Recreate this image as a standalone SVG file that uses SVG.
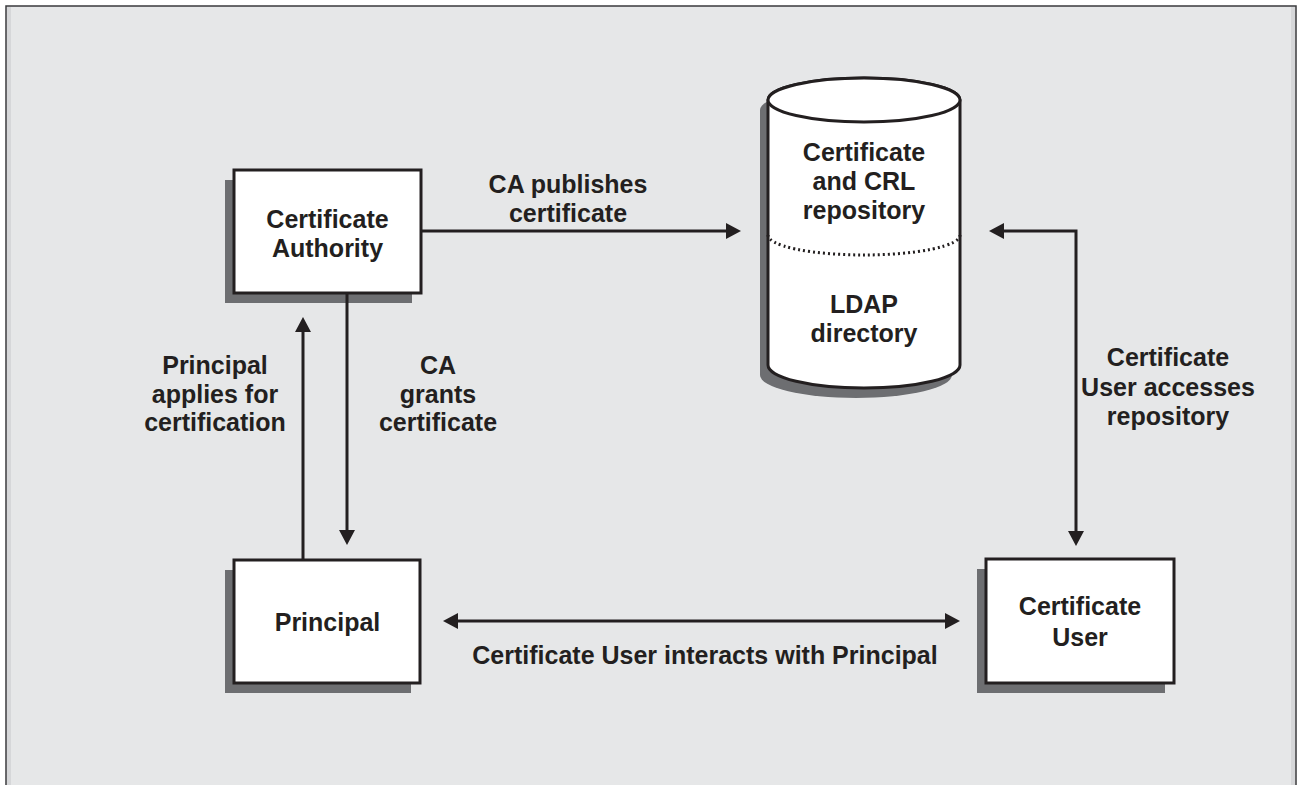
<svg xmlns="http://www.w3.org/2000/svg" width="1301" height="785" viewBox="0 0 1301 785">
  <style>
    .bg { fill: #e6e7e8; }
    .box { fill: #ffffff; stroke: #231f20; stroke-width: 3; }
    .shadow { fill: #6d6e71; }
    .lbl { font-family: "Liberation Sans", Arial, Helvetica, sans-serif; font-weight: bold; font-size: 25px; fill: #231f20; text-anchor: middle; }
    .conn { fill: none; stroke: #231f20; stroke-width: 3; }
  </style>
  <defs>
    <marker id="arrow" markerUnits="userSpaceOnUse" markerWidth="16" markerHeight="16" refX="1" refY="8" orient="auto-start-reverse" viewBox="0 0 16 16">
      <path d="M0,0 L15,8 L0,16 Z" fill="#231f20"/>
    </marker>
  </defs>

  <!-- page frame -->
  <rect x="0" y="0" width="1301" height="785" fill="#ffffff"/>
  <rect class="bg" x="6" y="6" width="1290" height="790" stroke="#3a3a3c" stroke-width="1.5"/>
  <rect x="7" y="7" width="4" height="790" fill="#d6d7d9"/>
  <rect x="1291" y="7" width="4" height="790" fill="#d6d7d9"/>

  <!-- Certificate Authority -->
  <g id="node-ca">
    <rect class="shadow" x="225" y="180" width="187" height="123"/>
    <rect class="box" x="234" y="170" width="187" height="123"/>
    <text class="lbl" x="327.5" y="228">Certificate</text>
    <text class="lbl" x="327.5" y="257">Authority</text>
  </g>

  <!-- Repository cylinder -->
  <g id="node-repository">
    <path class="shadow" transform="translate(-8,10)" d="M768,100 V365 A96,23 0 0 0 960,365 V100 A96,22 0 0 0 768,100 Z"/>
    <path class="box" d="M768,100 V365 A96,23 0 0 0 960,365 V100 A96,22 0 0 0 768,100 Z"/>
    <ellipse class="box" cx="864" cy="100" rx="96" ry="22"/>
    <path d="M768,235 A96,20 0 0 0 960,235" fill="none" stroke="#231f20" stroke-width="3" stroke-dasharray="2,3"/>
    <text class="lbl" x="864" y="161">Certificate</text>
    <text class="lbl" x="864" y="190">and CRL</text>
    <text class="lbl" x="864" y="219">repository</text>
    <text class="lbl" x="864" y="313">LDAP</text>
    <text class="lbl" x="864" y="342">directory</text>
  </g>

  <!-- Principal -->
  <g id="node-principal">
    <rect class="shadow" x="225" y="570" width="186" height="123"/>
    <rect class="box" x="234" y="560" width="186" height="123"/>
    <text class="lbl" x="327.5" y="631">Principal</text>
  </g>

  <!-- Certificate User -->
  <g id="node-user">
    <rect class="shadow" x="977" y="569" width="188" height="124"/>
    <rect class="box" x="986" y="559" width="188" height="124"/>
    <text class="lbl" x="1080" y="615">Certificate</text>
    <text class="lbl" x="1080" y="646">User</text>
  </g>

  <!-- connectors -->
  <g id="connectors">
    <path class="conn" d="M421,231 H727" marker-end="url(#arrow)"/>
    <path class="conn" d="M1003,231 H1076 V532" marker-start="url(#arrow)" marker-end="url(#arrow)"/>
    <path class="conn" d="M347,293 V531" marker-end="url(#arrow)"/>
    <path class="conn" d="M303,560 V331" marker-end="url(#arrow)"/>
    <path class="conn" d="M457,621 H946" marker-start="url(#arrow)" marker-end="url(#arrow)"/>
  </g>

  <!-- connector labels -->
  <g id="labels">
    <text class="lbl" x="568" y="193">CA publishes</text>
    <text class="lbl" x="568" y="222">certificate</text>
    <text class="lbl" x="1168" y="366">Certificate</text>
    <text class="lbl" x="1168" y="396">User accesses</text>
    <text class="lbl" x="1168" y="425">repository</text>
    <text class="lbl" x="215" y="374">Principal</text>
    <text class="lbl" x="215" y="403">applies for</text>
    <text class="lbl" x="215" y="431">certification</text>
    <text class="lbl" x="438" y="374">CA</text>
    <text class="lbl" x="438" y="403">grants</text>
    <text class="lbl" x="438" y="431">certificate</text>
    <text class="lbl" x="705" y="664">Certificate User interacts with Principal</text>
  </g>
</svg>
